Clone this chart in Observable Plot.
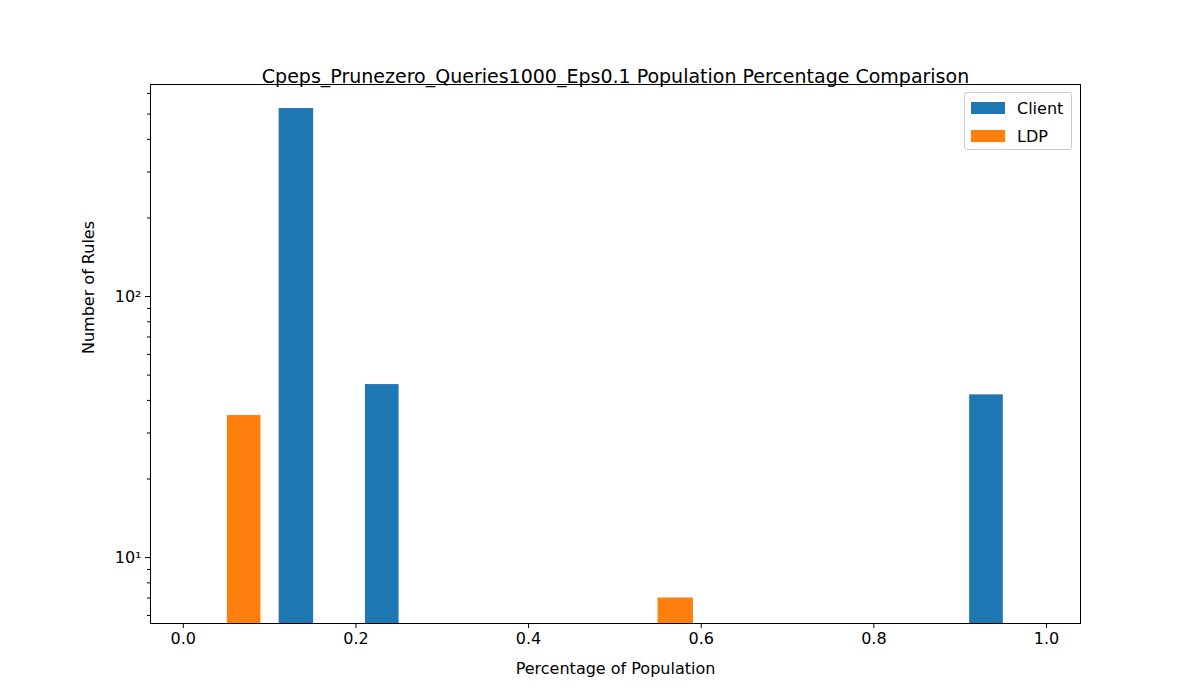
<!DOCTYPE html>
<html><head><meta charset="utf-8">
<script src="https://cdn.jsdelivr.net/npm/d3@7"></script>
<script src="https://cdn.jsdelivr.net/npm/@observablehq/plot@0.6"></script>
<style>
body{margin:0;background:#fff;font-family:"DejaVu Sans",sans-serif}
#wrap{position:relative;width:1200px;height:700px}
.legend{position:absolute;left:964px;top:92px;width:106px;height:56px;border:1px solid #ccc;border-radius:3px;background:#fff;font-size:16px}
.legend div{display:flex;align-items:center;height:26px;margin:2px 0 0 6px}
.legend span.sw{display:inline-block;width:34px;height:12px;margin-right:12px}
</style></head><body>
<div id="wrap"><div id="chart"></div>
<div class="legend"><div><span class="sw" style="background:#1f77b4"></span>Client</div><div><span class="sw" style="background:#ff7f0e"></span>LDP</div></div>
</div>
<script>
// bars: left/right edge in x units, count
const clientX0 = [0.111, 0.211, 0.911];
const clientX1 = [0.151, 0.250, 0.950];
const clientN = [525, 46, 42];
const ldpX0 = [0.051, 0.550];
const ldpX1 = [0.090, 0.591];
const ldpN = [35, 7];
const xTicks = [0, 0.2, 0.4, 0.6, 0.8, 1.0];
const yMajor = [10, 100];
const yMinor = [6,7,8,9,20,30,40,50,60,70,80,90,200,300,400,500,600];
const yMin = 5.59, yMax = 649;

const client = clientN.map((n,i)=>({x0:clientX0[i],x1:clientX1[i],n}));
const ldp = ldpN.map((n,i)=>({x0:ldpX0[i],x1:ldpX1[i],n}));
const sup = {1:"¹",2:"²"};

const plot = Plot.plot({
  width:1200, height:700,
  marginLeft:150, marginRight:120, marginTop:84, marginBottom:77,
  style:{fontFamily:"DejaVu Sans", fontSize:"16px", color:"#000", background:"#fff"},
  x:{domain:[-0.038,1.0394]},
  y:{type:"log", domain:[yMin,yMax]},
  marks:[
    Plot.rectY(client,{x1:"x0",x2:"x1",y1:yMin,y2:"n",fill:"#1f77b4"}),
    Plot.rectY(ldp,{x1:"x0",x2:"x1",y1:yMin,y2:"n",fill:"#ff7f0e"}),
    Plot.frame({stroke:"#000"}),
    Plot.axisX({ticks:xTicks, tickFormat:d=>d.toFixed(1), tickSize:5, tickPadding:4, label:null}),
    Plot.axisY({ticks:yMajor, tickFormat:d=>"10"+sup[Math.round(Math.log10(d))], tickSize:5, tickPadding:4, label:null}),
    Plot.axisY({ticks:yMinor, tickFormat:()=>"", tickSize:3, label:null}),
    Plot.text(["Percentage of Population"],{frameAnchor:"bottom", dy:50, fontSize:16}),
    Plot.text(["Number of Rules"],{frameAnchor:"left", dx:-62, rotate:-90, fontSize:16}),
    Plot.text(["Cpeps_Prunezero_Queries1000_Eps0.1 Population Percentage Comparison"],{frameAnchor:"top", dy:-15, fontSize:19})
  ]
});
document.getElementById("chart").append(plot);
</script>
</body></html>
